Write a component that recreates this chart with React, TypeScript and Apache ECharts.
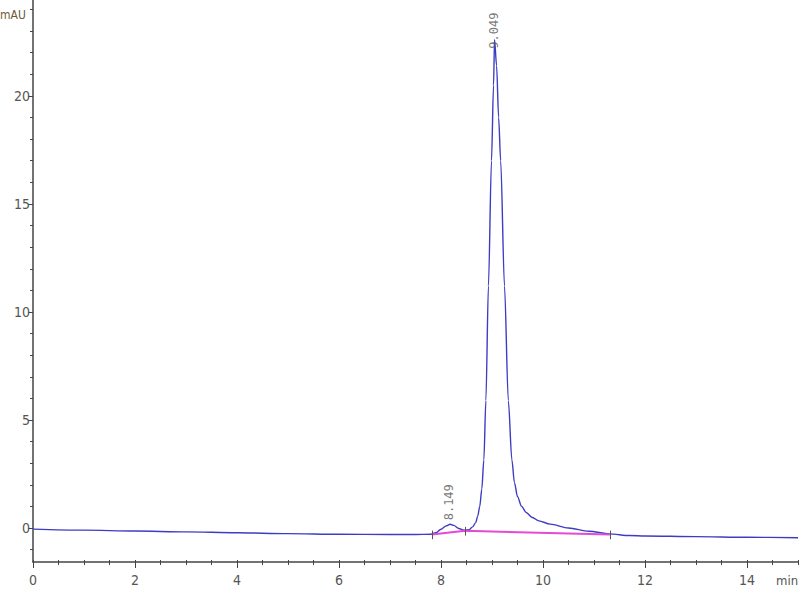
import React, { useEffect, useRef } from "react";
import * as echarts from "echarts";

// Chromatogram signal (time in min, absorbance in mAU)
const signalTimes = [
  0, 1, 2, 3, 4, 5, 6, 7, 7.5, 7.8, 7.9, 8.0, 8.1, 8.18, 8.25, 8.35, 8.45, 8.55, 8.62, 8.68,
  8.72, 8.76, 8.8, 8.84, 8.88, 8.93, 8.99, 9.03, 9.05, 9.09, 9.13, 9.17, 9.245, 9.32, 9.39,
  9.44, 9.5, 9.58, 9.67, 9.78, 9.92, 10.14, 10.5, 10.9, 11.3, 11.7, 12, 13, 14, 15,
];
const signalValues = [
  -0.05, -0.1, -0.14, -0.18, -0.22, -0.26, -0.29, -0.3, -0.3, -0.29, -0.22, -0.06, 0.1, 0.17, 0.12,
  -0.02, -0.1, -0.08, 0.05, 0.25, 0.55, 1.0, 1.8, 3.15, 5.9, 11.2, 17.0, 20.5, 22.6, 21.4, 19.0,
  17.0, 11.2, 5.9, 3.15, 2.1, 1.45, 1.0, 0.72, 0.5, 0.33, 0.18, 0.0, -0.15, -0.27, -0.35, -0.37,
  -0.4, -0.43, -0.45,
];

// Integration baseline (magenta)
const baselineTimes = [7.82, 8.47, 11.31];
const baselineValues = [-0.3, -0.13, -0.3];

// Peak boundary marks
const boundaryTimes = [7.82, 8.47, 11.31];
const boundaryValues = [-0.3, -0.13, -0.3];

// Peak annotations
const peakTimes = [8.149, 9.049];
const peakHeights = [0.17, 22.6];
const peakLabels = ["8.149", "9.049"];

// Axis ticks
const xLabelValues = [0, 2, 4, 6, 8, 10, 12, 14];
const xMinorValues = [
  0, 0.5, 1, 1.5, 2, 2.5, 3, 3.5, 4, 4.5, 5, 5.5, 6, 6.5, 7, 7.5, 8, 8.5, 9, 9.5, 10, 10.5, 11,
  11.5, 12, 12.5, 13, 13.5, 14, 14.5, 15,
];
const yLabelValues = [0, 5, 10, 15, 20];
const yMinorValues = [-1, 0, 1, 2, 3, 4, 5, 6, 7, 8, 9, 10, 11, 12, 13, 14, 15, 16, 17, 18, 19, 20, 21, 22, 23, 24];

const FONT = "'Liberation Sans Narrow', 'DejaVu Sans Condensed', 'Liberation Sans', sans-serif";
const AXIS_COLOR = "#444";
const LABEL_COLOR = "#555";

export default function App() {
  const ref = useRef<HTMLDivElement>(null);

  useEffect(() => {
    if (!ref.current) return;
    const chart = echarts.init(ref.current, undefined, { renderer: "svg" });

    const X_MIN = 0;
    const X_MAX = 15;
    const Y_MIN = -1.574;
    const Y_MAX = 24.44;

    const baseX = {
      type: "value" as const,
      min: X_MIN,
      max: X_MAX,
      position: "bottom" as const,
      splitLine: { show: false },
    };
    const baseY = {
      type: "value" as const,
      min: Y_MIN,
      max: Y_MAX,
      position: "left" as const,
      splitLine: { show: false },
    };

    chart.setOption({
      animation: false,
      backgroundColor: "#ffffff",
      grid: { left: 33, right: 2, top: 0, bottom: 38, containLabel: false },
      xAxis: [
        {
          ...baseX,
          axisLine: { show: true, onZero: false, lineStyle: { color: AXIS_COLOR, width: 1.5 } },
          axisTick: { show: true, customValues: xLabelValues, length: 6, lineStyle: { color: AXIS_COLOR } },
          axisLabel: {
            show: true,
            customValues: xLabelValues,
            margin: 11,
            color: LABEL_COLOR,
            fontSize: 14,
            fontFamily: FONT,
          },
        },
        {
          ...baseX,
          axisLine: { show: false, onZero: false },
          axisTick: { show: true, inside: true, customValues: xMinorValues, length: 2, lineStyle: { color: AXIS_COLOR } },
          axisLabel: { show: false },
        },
        {
          ...baseX,
          axisLine: { show: false, onZero: false },
          axisTick: { show: true, customValues: xMinorValues, length: 3, lineStyle: { color: AXIS_COLOR } },
          axisLabel: { show: false },
        },
      ],
      yAxis: [
        {
          ...baseY,
          axisLine: { show: true, onZero: false, lineStyle: { color: AXIS_COLOR, width: 1.5 } },
          axisTick: { show: true, customValues: yLabelValues, length: 5, lineStyle: { color: AXIS_COLOR } },
          axisLabel: {
            show: true,
            customValues: yLabelValues,
            margin: 3,
            color: LABEL_COLOR,
            fontSize: 14,
            fontFamily: FONT,
          },
        },
        {
          ...baseY,
          axisLine: { show: false, onZero: false },
          axisTick: { show: true, customValues: yMinorValues, length: 3, lineStyle: { color: AXIS_COLOR } },
          axisLabel: { show: false },
        },
      ],
      graphic: [
        {
          type: "text",
          left: 0,
          top: 9,
          style: { text: "mAU", fill: "#6b5a3a", font: `12px ${FONT}` },
        },
        {
          type: "text",
          left: 776,
          top: 574,
          style: { text: "min", fill: LABEL_COLOR, font: `13px ${FONT}` },
        },
      ],
      series: [
        {
          type: "line",
          name: "signal",
          xAxisIndex: 0,
          yAxisIndex: 0,
          data: signalTimes.map((t, i) => [t, signalValues[i]]),
          showSymbol: false,
          smooth: 0.3,
          smoothMonotone: "x",
          lineStyle: { color: "#3c3cc4", width: 1.4 },
          z: 3,
        },
        {
          type: "line",
          name: "baseline",
          xAxisIndex: 0,
          yAxisIndex: 0,
          data: baselineTimes.map((t, i) => [t, baselineValues[i]]),
          showSymbol: false,
          lineStyle: { color: "#e34ad6", width: 2 },
          z: 4,
          markLine: {
            silent: true,
            symbol: "none",
            label: { show: false },
            lineStyle: { color: "#555", width: 1, type: "solid" },
            data: boundaryTimes.map((t, i) => [
              { coord: [t, boundaryValues[i] + 0.18] },
              { coord: [t, boundaryValues[i] - 0.22] },
            ]),
          },
        },
        {
          type: "scatter",
          name: "peaks",
          xAxisIndex: 0,
          yAxisIndex: 0,
          symbolSize: 0,
          data: peakTimes.map((t, i) => ({
            value: [t, peakHeights[i]],
            label: { distance: i === 0 ? 4 : -9 },
          })),
          label: {
            show: true,
            position: "top",
            rotate: 90,
            align: "left",
            verticalAlign: "middle",
            color: "#555",
            fontSize: 12,
            fontFamily: "'DejaVu Sans Mono', monospace",
            formatter: (p: any) => peakLabels[p.dataIndex],
          },
          z: 5,
        },
      ],
    });

    return () => chart.dispose();
  }, []);

  return <div ref={ref} style={{ width: 800, height: 600, position: "absolute", left: 0, top: 0 }} />;
}
